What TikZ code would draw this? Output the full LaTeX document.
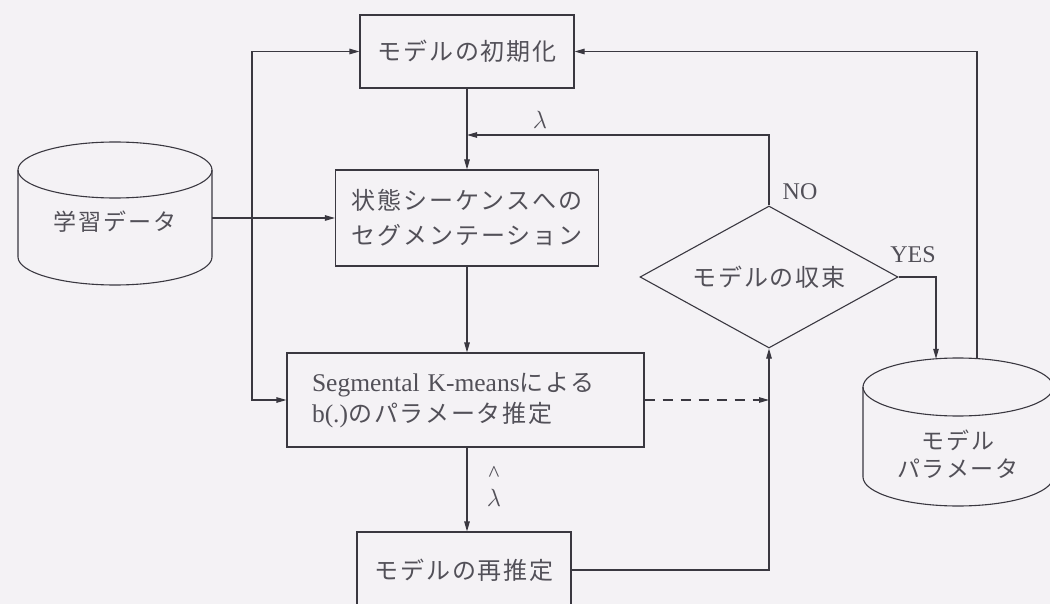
\documentclass[tikz,border=0pt]{standalone}
\usepackage{fontspec}
\setmainfont{Liberation Serif}
\newfontfamily\jp[LetterSpace=8]{Noto Sans CJK JP}
\usetikzlibrary{arrows.meta,shapes.geometric}
\definecolor{bg}{RGB}{244,242,245}
\definecolor{ink}{RGB}{58,56,64}
\definecolor{txt}{RGB}{82,80,88}
\newcommand{\mycyl}[5]{% cx rx ytop ybot ry
  \draw[ink, line width=1.1pt] (#1,#3) ellipse [x radius=#2, y radius=#5];
  \draw[ink, line width=1.1pt] ({#1-#2},#3) -- ({#1-#2},#4)
    .. controls ({#1-#2},{#4+0.5523*#5}) and ({#1-0.5523*#2},{#4+#5}) .. (#1,{#4+#5})
    .. controls ({#1+0.5523*#2},{#4+#5}) and ({#1+#2},{#4+0.5523*#5}) .. ({#1+#2},#4)
    -- ({#1+#2},#3);
}
\begin{document}
\begin{tikzpicture}[x=1pt,y=-1pt,
  box/.style={draw=ink, line width=1.1pt, rectangle, inner sep=0pt, text=txt,
    font=\jp\fontsize{24}{30}\selectfont},
  arr/.style={-{Triangle[length=10pt,width=5.5pt]}, draw=ink, line width=1.1pt},
  darr/.style={{Triangle[length=10pt,width=5.5pt]}-{Triangle[length=10pt,width=5.5pt]}, draw=ink, line width=1.1pt},
  lab/.style={text=txt, font=\fontsize{24}{28}\selectfont},
  cyltext/.style={text=txt, inner sep=0pt, font=\jp\fontsize{23}{28}\selectfont}]
\useasboundingbox (0,0) rectangle (1050,604);
\fill[bg] (0,0) rectangle (1050,604);

% cylinders
\mycyl{115}{97}{170}{257}{28}
\mycyl{958}{95}{387}{477}{29}
\node[cyltext] (db) at (115,222) {学習データ};
\node[cyltext, align=center] (mp) at (958,454) {モデル\\パラメータ};
\coordinate (dbR) at (212,218);
\coordinate (mpA) at (936,358.8);
\coordinate (mpB) at (977,358.6);

% boxes
\node[box, minimum width=214pt, minimum height=73pt] (init) at (467,51.5) {モデルの初期化};
\node[box, minimum width=263pt, minimum height=96pt, align=center,
  font=\jp\fontsize{24}{35}\selectfont] (seg) at (467,218) {状態シーケンスへの\\セグメンテーション};
\node[box, minimum width=357pt, minimum height=94pt, text width=307pt, align=left,
  font=\jp\fontsize{24}{31}\selectfont] (km) at (465.5,400)
  {{\rmfamily\fontsize{25.5}{31}\selectfont Segmental K-means}による\\{\rmfamily\fontsize{25.5}{31}\selectfont b(.)}のパラメータ推定};
\node[box, minimum width=214pt, minimum height=76pt] (re) at (464,570) {モデルの再推定};
\node[draw=ink, line width=1.1pt, diamond, aspect=1.8, inner sep=0pt,
  minimum width=258pt, minimum height=142pt, text=txt,
  font=\jp\fontsize{24}{30}\selectfont] (conv) at (769,277) {モデルの収束};

% labels
\node[lab, font=\fontsize{23}{26}\selectfont] (lam1) at (540,120) {$\lambda$};
\node[lab, align=center, font=\fontsize{23}{25}\selectfont] (lam2) at (494,486) {\textasciicircum\\$\lambda$};
\node[lab] (no) at (800,192) {NO};
\node[lab] (yes) at (913,255) {YES};

% connectors
\coordinate (lamj) at (467,135);
\coordinate (lfb) at (252,400);
\draw[arr] (init.south) -- (seg.north);
\draw[arr] (conv.north) |- (lamj);
\draw[arr] (dbR) -- (dbR -| seg.west);
\draw[darr] (init.west) -| (lfb) -- (km.west);
\draw[arr] (seg.south) -- (seg.south |- km.north);
\draw[arr] (seg.south |- km.south) -- (seg.south |- re.north);
\draw[arr, dash pattern=on 10pt off 8pt] (km.east) -- (km.east -| conv.south);
\draw[arr] (re.east) -| (conv.south);
\draw[arr] (conv.east) -| (mpA);
\draw[arr] (mpB) |- (init.east);
\end{tikzpicture}
\end{document}
